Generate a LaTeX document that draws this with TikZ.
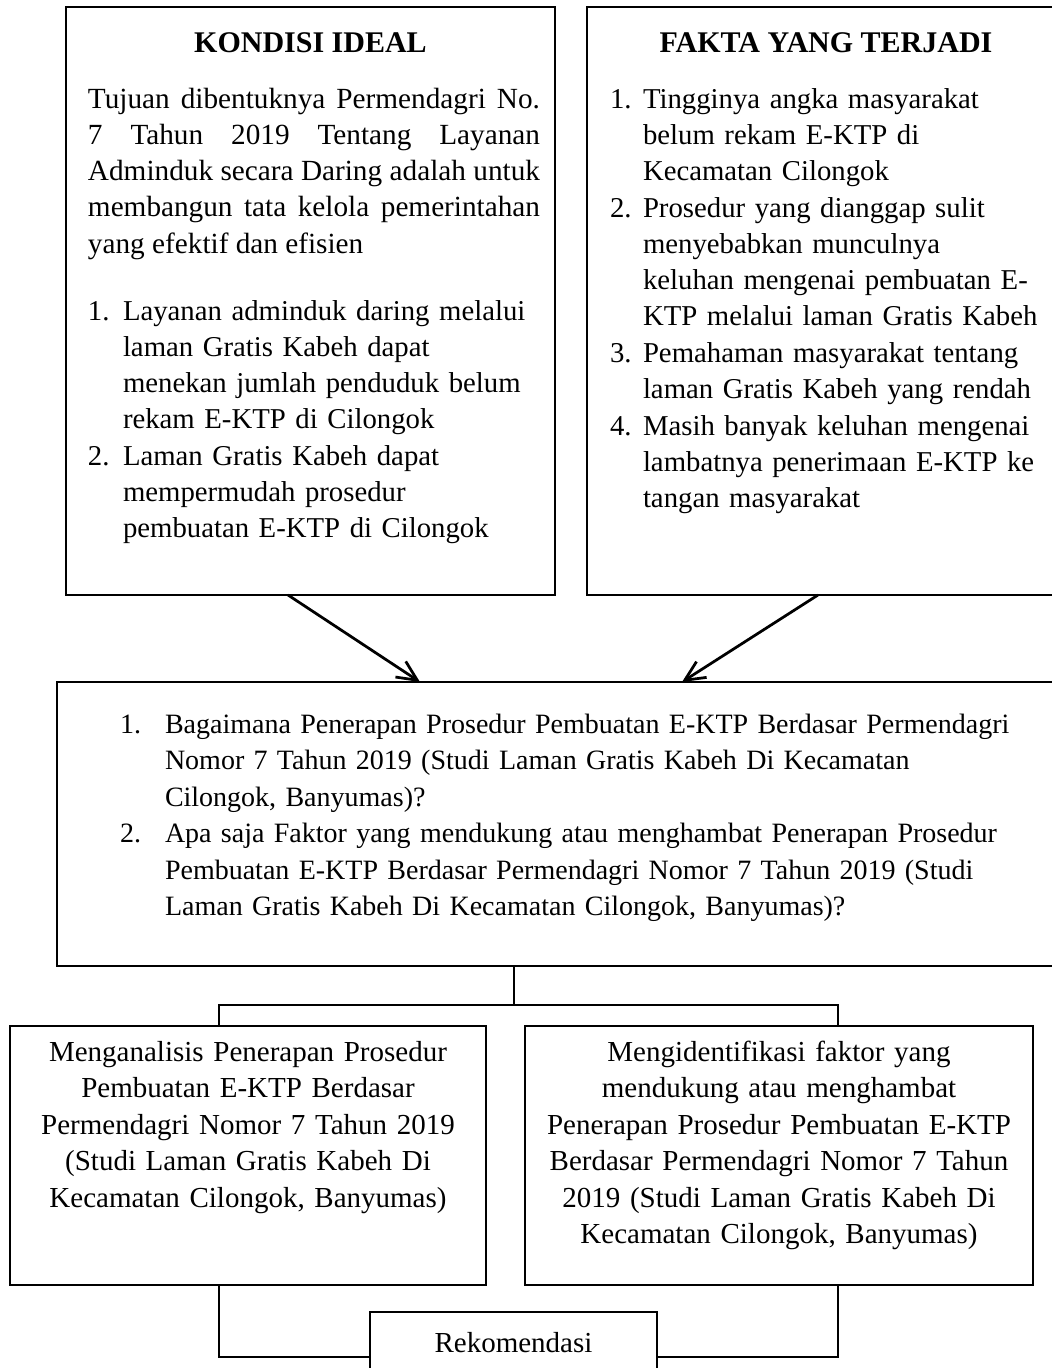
\documentclass[tikz,border=0pt]{standalone}
\usepackage{fontspec}
\setmainfont{Liberation Serif}
\usetikzlibrary{arrows.meta,fit,calc}
\begin{document}
\begin{tikzpicture}[x=0.4pt,y=-0.4pt,
  frame/.style={draw, line width=0.75pt, inner sep=0pt, outer sep=0pt},
  wire/.style={draw, line width=0.75pt},
  pointer/.style={draw, line width=1.1pt, -{Straight Barb[length=8pt,width=7.5pt]}},
  body/.style={inner sep=0pt, outer sep=0pt, anchor=base west,
    font=\fontsize{11.5pt}{14.52pt}\selectfont},
  small/.style={font=\fontsize{11.2pt}{14.6pt}\selectfont},
  heading/.style={body, anchor=base, font=\fontsize{12pt}{14.52pt}\selectfont\bfseries},
  justified/.style={body, text width=#1, align=justify,
    font=\fontsize{11.7pt}{14.52pt}\selectfont},
  ragged/.style={body, text width=#1, align=left},
  centred/.style={body, anchor=base, text width=#1, align=center,
    font=\fontsize{11.6pt}{14.6pt}\selectfont},
]
\useasboundingbox (0,0) rectangle (1052,1368);
\clip (0,0) rectangle (1052,1368);

% frames
\node[frame, fit={(66,7)(555,595)}] (kondisi) {};
\node[frame, fit={(587,7)(1076,595)}] (fakta) {};
\node[frame, fit={(57,682)(1070,966)}] (masalah) {};
\node[frame, fit={(10,1026)(486,1285)}] (analisis) {};
\node[frame, fit={(525,1026)(1033,1285)}] (identifikasi) {};
\node[frame, fit={(370,1312)(657,1402)}] (rekom) {};

% ideal conditions
\node[heading] (kondisiTitle) at (310.5,52) {KONDISI IDEAL};
\node[justified=180.8pt] (kondisiText) at (88,108) {Tujuan dibentuknya Permendagri No.\linebreak 7 Tahun 2019 Tentang Layanan\linebreak Adminduk secara Daring adalah untuk\linebreak membangun tata kelola pemerintahan\linebreak yang efektif dan efisien};
\node[body] (kondisiNa) at (88,320) {1.};
\node[ragged=175pt] (kondisiA) at (123,320) {Layanan adminduk daring melalui\\ laman Gratis Kabeh dapat\\ menekan jumlah penduduk belum\\ rekam E-KTP di Cilongok};
\node[body] (kondisiNb) at (88,465) {2.};
\node[ragged=175pt] (kondisiB) at (123,465) {Laman Gratis Kabeh dapat\\ mempermudah prosedur\\ pembuatan E-KTP di Cilongok};

% facts
\node[heading] (faktaTitle) at (826,52) {FAKTA YANG TERJADI};
\node[body] (faktaNa) at (610,108) {1.};
\node[ragged=180pt] (faktaA) at (643,108) {Tingginya angka masyarakat\\ belum rekam E-KTP di\\ Kecamatan Cilongok};
\node[body] (faktaNb) at (610,217) {2.};
\node[ragged=180pt] (faktaB) at (643,217) {Prosedur yang dianggap sulit\\ menyebabkan munculnya\\ keluhan mengenai pembuatan E-\\ KTP melalui laman Gratis Kabeh};
\node[body] (faktaNc) at (610,362) {3.};
\node[ragged=180pt] (faktaC) at (643,362) {Pemahaman masyarakat tentang\\ laman Gratis Kabeh yang rendah};
\node[body] (faktaNd) at (610,435) {4.};
\node[ragged=180pt] (faktaD) at (643,435) {Masih banyak keluhan mengenai\\ lambatnya penerimaan E-KTP ke\\ tangan masyarakat};

% research questions
\node[body, small] (masalahNa) at (120,733) {1.};
\node[ragged=370pt, small] (masalahA) at (165,733) {Bagaimana Penerapan Prosedur Pembuatan E-KTP Berdasar Permendagri\\ Nomor 7 Tahun 2019 (Studi Laman Gratis Kabeh Di Kecamatan\\ Cilongok, Banyumas)?};
\node[body, small] (masalahNb) at (120,842.5) {2.};
\node[ragged=370pt, small] (masalahB) at (165,842.5) {Apa saja Faktor yang mendukung atau menghambat Penerapan Prosedur\\ Pembuatan E-KTP Berdasar Permendagri Nomor 7 Tahun 2019 (Studi\\ Laman Gratis Kabeh Di Kecamatan Cilongok, Banyumas)?};

% objectives
\node[centred=190pt] (analisisText) at (248,1061) {Menganalisis Penerapan Prosedur\\ Pembuatan E-KTP Berdasar\\ Permendagri Nomor 7 Tahun 2019\\ (Studi Laman Gratis Kabeh Di\\ Kecamatan Cilongok, Banyumas)};
\node[centred=205pt] (identifikasiText) at (779,1061) {Mengidentifikasi faktor yang\\ mendukung atau menghambat\\ Penerapan Prosedur Pembuatan E-KTP\\ Berdasar Permendagri Nomor 7 Tahun\\ 2019 (Studi Laman Gratis Kabeh Di\\ Kecamatan Cilongok, Banyumas)};
\node[body, anchor=base, font=\fontsize{11.6pt}{14.6pt}\selectfont] (rekomText) at (513.5,1352) {Rekomendasi};

% arrows into the problem statement
\draw[pointer] ($(kondisi.south west)+(222,0)$) -- ($(masalah.north west)+(363,0)$);
\draw[pointer] ($(fakta.south west)+(231,0)$) -- ($(masalah.north west)+(625,0)$);

% branching to the objectives and joining into the recommendation
\coordinate (split) at ($(masalah.south west)+(457,39)$);
\draw[wire] ($(masalah.south west)+(457,0)$) -- (split);
\draw[wire] ($(analisis.north west)+(209,0)$) |- (split) -| ($(identifikasi.north west)+(313,0)$);
\draw[wire] ($(analisis.south west)+(209,0)$) |- (rekom.west);
\draw[wire] (rekom.east) -| ($(identifikasi.south west)+(313,0)$);
\end{tikzpicture}
\end{document}
